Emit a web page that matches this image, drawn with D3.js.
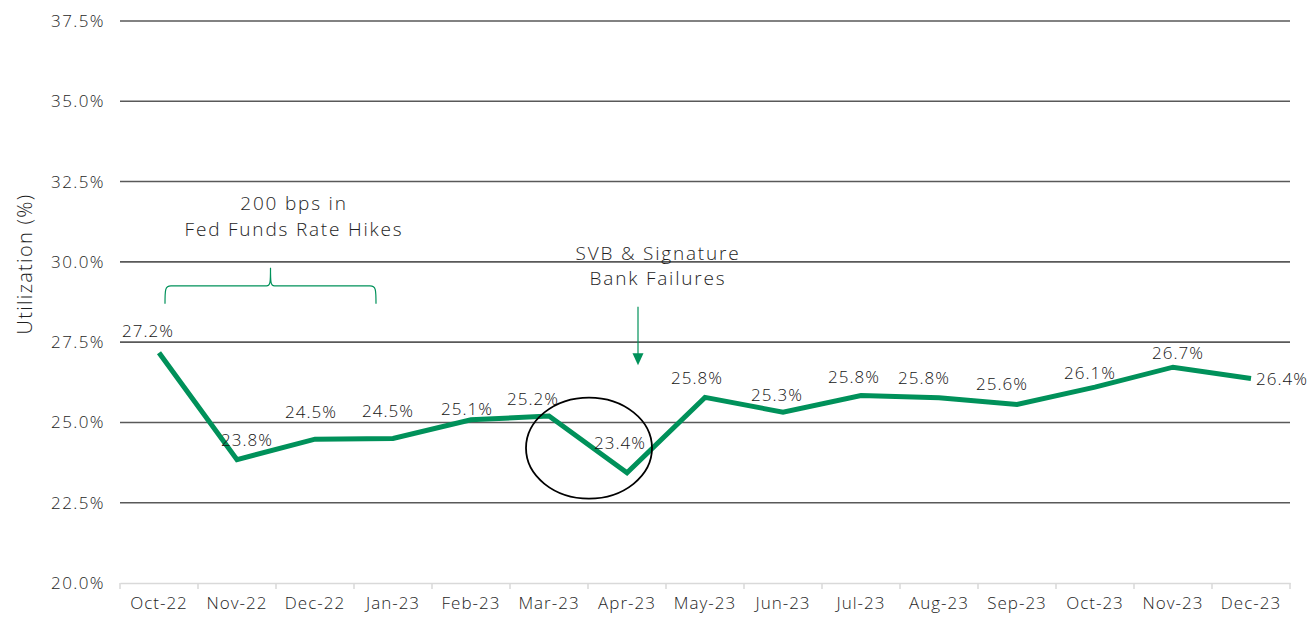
<!DOCTYPE html>
<html>
<head>
<meta charset="utf-8">
<script src="https://cdn.jsdelivr.net/npm/d3@7"></script>
<style>
  html, body { margin: 0; padding: 0; background: #fff; }
  svg { display: block; font-family: "Open Sans", Lato, sans-serif; font-weight: 300; }
</style>
</head>
<body>
<svg id="chart" width="1308" height="617"></svg>
<script>
// ---- data ----
const months = ["Oct-22","Nov-22","Dec-22","Jan-23","Feb-23","Mar-23","Apr-23","May-23","Jun-23","Jul-23","Aug-23","Sep-23","Oct-23","Nov-23","Dec-23"];
const utilization = [27.17, 23.84, 24.48, 24.5, 25.08, 25.2, 23.43, 25.78, 25.32, 25.84, 25.77, 25.56, 26.1, 26.72, 26.37];
const yTicks = [20, 22.5, 25, 27.5, 30, 32.5, 35, 37.5];
const yTitle = "Utilization (%)";
const hikeNote = ["200 bps in", "Fed Funds Rate Hikes"];
const bankNote = ["SVB & Signature", "Bank Failures"];

// label nudges (layout only) relative to each point
const labelNudge = [[-11,-22],[10,-20],[-4,-27],[-5,-27],[-4,-11],[-16,-17],[-7,-30],[-8,-19],[-6,-17],[-7,-18],[-15,-20],[-15,-20],[-5,-14],[5,-14],[31,1]];

const svg = d3.select("#chart");
const margin = {left: 120, right: 18, top: 21, bottom: 34};
const W = 1308, H = 617;

const x = d3.scaleBand().domain(months).range([margin.left, W - margin.right]).paddingInner(0).paddingOuter(0);
const y = d3.scaleLinear().domain([20, 37.5]).range([H - margin.bottom, margin.top]);
const cx = m => x(m) + x.bandwidth() / 2;

const green = "#00915a";
const textCol = "#1e1e1e";
const FONT = "'Open Sans', Lato, sans-serif";

// gridlines
svg.append("g").selectAll("line").data(yTicks.filter(t => t > 20)).join("line")
  .attr("x1", margin.left).attr("x2", W - margin.right)
  .attr("y1", d => y(d)).attr("y2", d => y(d))
  .attr("stroke", "#595959").attr("stroke-width", 1.6);

// y axis labels
const yAxis = d3.axisLeft(y).tickValues(yTicks).tickFormat(d => d3.format(".1f")(d) + "%").tickSize(0).tickPadding(15);
const gy = svg.append("g").attr("transform", `translate(${margin.left},0)`).call(yAxis);
gy.select(".domain").remove();
gy.selectAll("text").attr("fill", textCol).style("font-size", "17px").style("font-family", FONT)
  .style("font-weight", 300).style("letter-spacing", "1.4px");

// x axis
const gx = svg.append("g").attr("transform", `translate(0,${y(20)})`)
  .call(d3.axisBottom(x).tickSize(0).tickPadding(14));
gx.select(".domain").attr("stroke", "#d9d9d9").attr("stroke-width", 1.5);
gx.selectAll("text").attr("fill", textCol).style("font-size", "17px").style("font-family", FONT)
  .style("font-weight", 300).style("letter-spacing", "1px");
// boundary ticks
const bounds = months.map(m => x(m)).concat([x(months[months.length-1]) + x.bandwidth()]);
gx.append("g").selectAll("line").data(bounds).join("line")
  .attr("x1", d => d).attr("x2", d => d).attr("y1", 0).attr("y2", 6)
  .attr("stroke", "#d9d9d9").attr("stroke-width", 1.5);

// y title
svg.append("text")
  .attr("transform", `translate(32,264) rotate(-90)`)
  .attr("text-anchor", "middle")
  .attr("fill", textCol).style("font-size", "20px").style("letter-spacing", "1.3px")
  .text(yTitle);

// line
const line = d3.line().x((d, i) => cx(months[i])).y(d => y(d));
svg.append("path").datum(utilization)
  .attr("d", line).attr("fill", "none")
  .attr("stroke", green).attr("stroke-width", 5).attr("stroke-linejoin", "miter");

// data labels
svg.append("g").selectAll("text").data(utilization).join("text")
  .attr("x", (d, i) => cx(months[i]) + labelNudge[i][0])
  .attr("y", (d, i) => y(d) + labelNudge[i][1])
  .attr("dy", "0.35em")
  .attr("text-anchor", "middle")
  .attr("fill", "#141414").style("font-size", "17px").style("letter-spacing", "1px")
  .text(d => d3.format(".1f")(d) + "%");

// ellipse around the April dip
const ex = (cx(months[5]) + cx(months[6])) / 2 + 1;
svg.append("ellipse")
  .attr("cx", ex).attr("cy", y(24.2))
  .attr("rx", 63).attr("ry", 50.5)
  .attr("fill", "none").attr("stroke", "#000").attr("stroke-width", 1.8);

// hike note
svg.append("text").attr("text-anchor", "middle").attr("fill", textCol)
  .style("font-size", "19px").style("letter-spacing", "1.8px")
  .selectAll("tspan").data(hikeNote).join("tspan")
  .attr("x", 294).attr("y", (d, i) => y(32.5) + 28 + i * 26)
  .text(d => d);

// brace
const bx0 = cx(months[0]) + 6, bx1 = cx(months[3]) - 17, bmid = (bx0 + bx1) / 2;
const by = y(30) + 24, byEnd = y(30) + 42, byTop = y(30) + 6;
const brace = d3.path();
brace.moveTo(bx0, byEnd);
brace.bezierCurveTo(bx0, by + 4, bx0, by, bx0 + 6, by);
brace.lineTo(bmid - 4, by);
brace.bezierCurveTo(bmid, by, bmid, by - 4, bmid, byTop);
brace.bezierCurveTo(bmid, by - 4, bmid, by, bmid + 4, by);
brace.lineTo(bx1 - 6, by);
brace.bezierCurveTo(bx1, by, bx1, by + 4, bx1, byEnd);
svg.append("path").attr("d", brace.toString()).attr("fill", "none")
  .attr("stroke", green).attr("stroke-width", 1.2);

// bank note
svg.append("text").attr("text-anchor", "middle").attr("fill", textCol)
  .style("font-size", "19px").style("letter-spacing", "1.8px")
  .selectAll("tspan").data(bankNote).join("tspan")
  .attr("x", 658).attr("y", (d, i) => y(30) - 2 + i * 25)
  .text(d => d);

// arrow
const ax = cx(months[6]) + 11;
svg.append("line").attr("x1", ax).attr("x2", ax).attr("y1", y(30) + 45).attr("y2", y(27.5) + 12)
  .attr("stroke", green).attr("stroke-width", 1.2);
svg.append("path")
  .attr("d", `M${ax - 5.5},${y(27.5) + 11} L${ax + 5.5},${y(27.5) + 11} L${ax},${y(27.5) + 23} Z`)
  .attr("fill", green);
</script>
</body>
</html>
